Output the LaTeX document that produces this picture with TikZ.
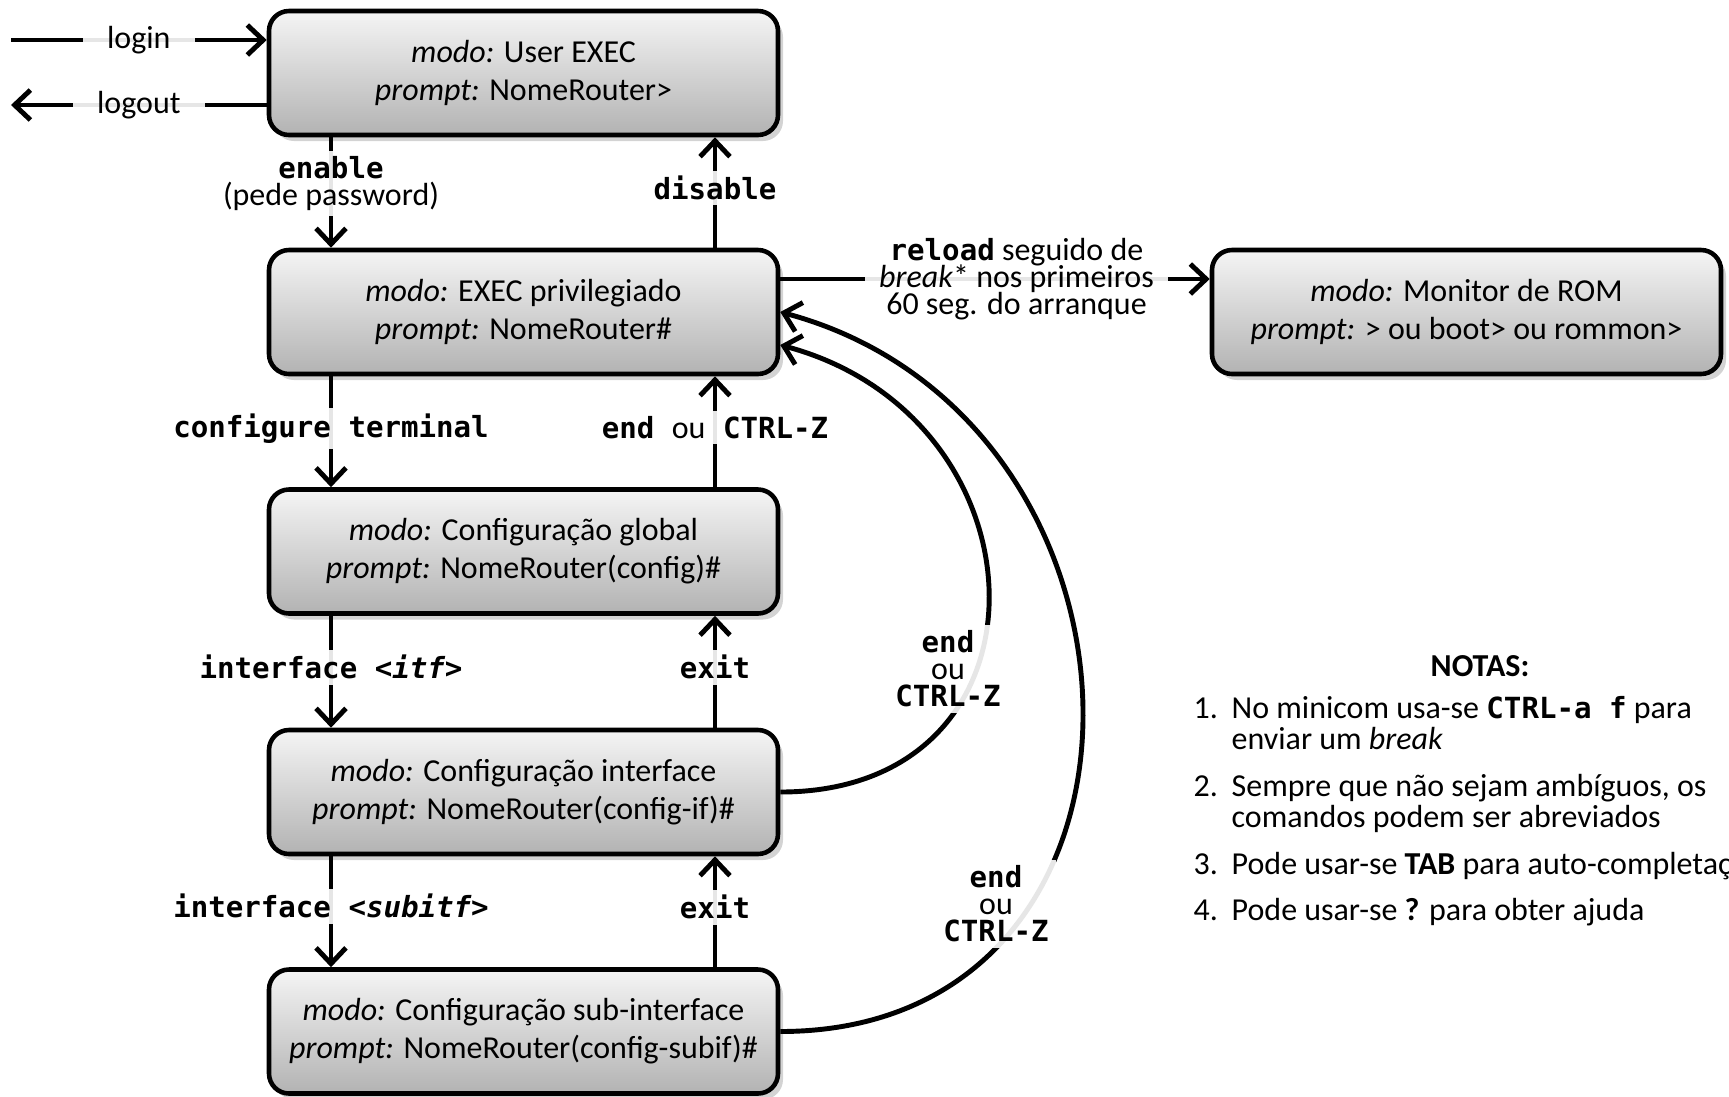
\documentclass[tikz,border=0pt]{standalone}
\usepackage{fontspec}
\setmainfont{Carlito}
\setmonofont{DejaVu Sans Mono}[Scale=0.91]
\usepackage{xcolor}
\usetikzlibrary{arrows.meta,positioning,shadows,calc}
\newcommand{\cmd}[1]{\textbf{\texttt{#1}}}
\setlength{\lineskiplimit}{-20pt}

\begin{document}
\begin{tikzpicture}[x = 1cm, y = 1cm,
  font = \fontsize{9.1}{10.8}\selectfont,
  > = {Straight Barb[length = 4.5pt, width = 8.5pt]},
  modebox/.style = {draw, line width = 1.3pt, rounded corners = .2cm,
    minimum width = 5.09cm, minimum height = 1.24cm, align = center,
    top color = gray!8, bottom color = gray!60,
    drop shadow = {shadow xshift = .5mm, shadow yshift = -.6mm, opacity = .35}},
  lbl/.style = {fill = white, fill opacity = .9, text opacity = 1, inner xsep = 4pt, inner ysep = 1.5pt, align = center},
  tight/.style = {font = \fontsize{9.1}{7.7}\selectfont},
  conn/.style = {->, line width = 1.4pt}]
\useasboundingbox (0,0) rectangle (17.29,-10.96);

\node[modebox] (user) at (5.235,-.73) {\textit{modo:} User EXEC\\ \textit{prompt:} NomeRouter>};
\node[modebox] (priv) at (5.235,-3.12) {\textit{modo:} EXEC privilegiado\\ \textit{prompt:} NomeRouter\#};
\node[modebox] (global) at (5.235,-5.515) {\textit{modo:} Configuração global\\ \textit{prompt:} NomeRouter(config)\#};
\node[modebox] (iface) at (5.235,-7.92) {\textit{modo:} Configuração interface\\ \textit{prompt:} NomeRouter(config-if)\#};
\node[modebox] (subif) at (5.235,-10.315) {\textit{modo:} Configuração sub-interface\\ \textit{prompt:} NomeRouter(config-subif)\#};
\node[modebox] (rom) at (14.665,-3.12) {\textit{modo:} Monitor de ROM\\ \textit{prompt:} > ou boot> ou rommon>};

\coordinate (dn) at (3.31,0);
\coordinate (up) at (7.15,0);
\coordinate (loginA) at (.11,-.40);
\coordinate (logoutB) at (.11,-1.05);

\draw[conn] (loginA) -- (loginA -| user.west) node[midway, lbl, inner xsep = 7pt] {login};
\draw[conn] (logoutB -| user.west) -- (logoutB) node[midway, lbl, inner xsep = 7pt] {logout};

\draw[conn] (user.south -| dn) -- (priv.north -| dn) node[pos = .42, lbl, tight] {\cmd{enable}\\ (pede password)};
\draw[conn] (priv.north -| up) -- (user.south -| up) node[pos = .54, lbl] {\cmd{disable}};
\draw[conn] (priv.south -| dn) -- (global.north -| dn) node[pos = .47, lbl] {\cmd{configure terminal}};
\draw[conn] (global.north -| up) -- (priv.south -| up) node[pos = .54, lbl] {\cmd{end\ }ou\cmd{\ CTRL-Z}};
\draw[conn] (global.south -| dn) -- (iface.north -| dn) node[pos = .46, lbl] {\cmd{interface \textit{<itf>}}};
\draw[conn] (iface.north -| up) -- (global.south -| up) node[pos = .54, lbl] {\cmd{exit}};
\draw[conn] (iface.south -| dn) -- (subif.north -| dn) node[pos = .45, lbl] {\cmd{interface \textit{<subitf>}}};
\draw[conn] (subif.north -| up) -- (iface.south -| up) node[pos = .54, lbl] {\cmd{exit}};

\draw[conn] ([yshift = 3.3mm]priv.east) -- ([yshift = 3.3mm]rom.west)
  node[pos = .55, lbl, tight] {\cmd{reload} seguido de\\ \textit{break}* nos primeiros\\ 60 seg. do arranque};

% back to privileged mode
\draw[conn] (iface.east) to[out = 0, in = -15, looseness = 1.62] ([yshift = -3.3mm]priv.east);
\draw[conn] (subif.east) to[out = 0, in = -15, looseness = 1.46] (priv.east);
\node[lbl, tight, inner xsep = 2pt] (endA) at (9.48,-6.69) {\cmd{end}\\ ou\\ \cmd{CTRL-Z}};
\node[lbl, tight, inner xsep = 2pt] (endB) at (9.96,-9.04) {\cmd{end}\\ ou\\ \cmd{CTRL-Z}};

% notes
\node[font = \fontsize{9.1}{10.8}\selectfont\bfseries] (notas) at (14.80,-6.66) {NOTAS:};
\node[anchor = north west, align = left, inner sep = 0pt,
  font = \fontsize{9.1}{8.8}\selectfont] (lista) at (11.93,-6.96) {%
\makebox[.38cm][l]{1.}No minicom usa-se \cmd{CTRL-a\ f} para\\
\hspace*{.38cm}enviar um \textit{break}\\[4.5pt]
\makebox[.38cm][l]{2.}Sempre que não sejam ambíguos, os\\
\hspace*{.38cm}comandos podem ser abreviados\\[4.5pt]
\makebox[.38cm][l]{3.}Pode usar-se \textbf{TAB} para auto-completação\\[4.5pt]
\makebox[.38cm][l]{4.}Pode usar-se \textbf{?} para obter ajuda};
\end{tikzpicture}
\end{document}
